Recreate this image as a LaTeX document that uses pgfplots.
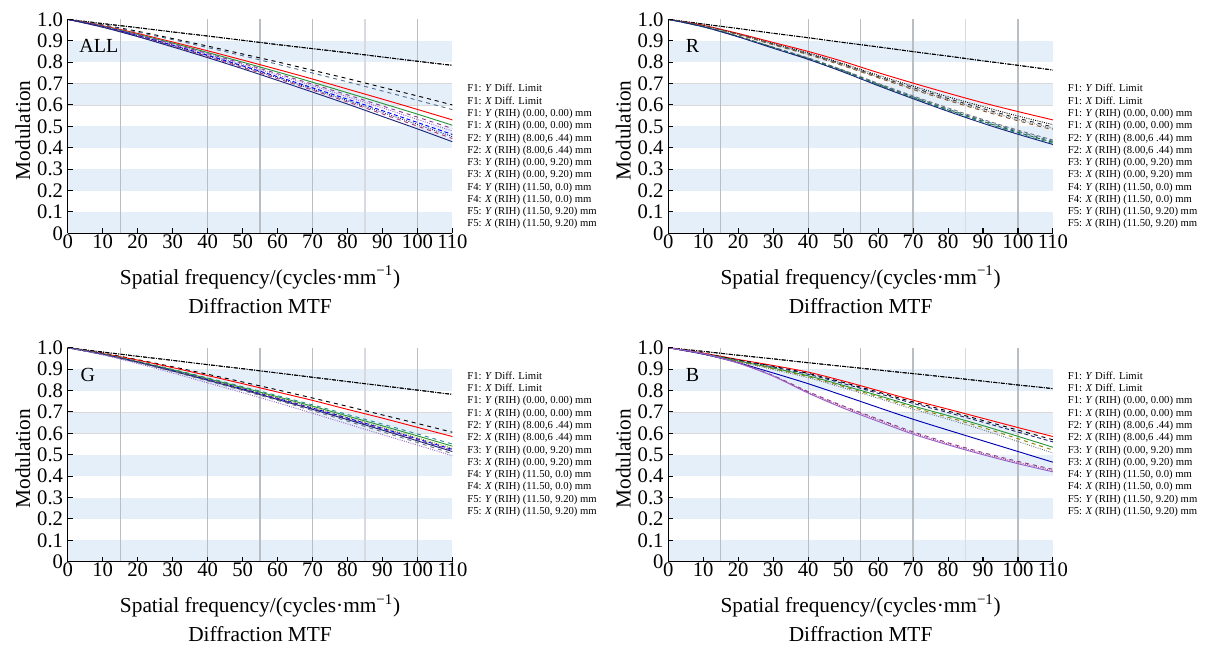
\documentclass[border=0pt]{standalone}
\usepackage{fontspec}
\setmainfont{Liberation Serif}
\usepackage{pgfplots}
\usepackage{pgfplotstable}
\pgfplotsset{compat=1.18}
\definecolor{bandblue}{RGB}{229,239,249}
\definecolor{steel}{RGB}{80,110,150}
\definecolor{mtfgreen}{RGB}{40,150,60}
\definecolor{mtfpurple}{RGB}{140,60,150}
\definecolor{mtfnavy}{RGB}{30,40,120}
\definecolor{mtfteal}{RGB}{40,140,150}
\definecolor{mtfviolet}{RGB}{150,100,200}
\definecolor{mtfgray}{RGB}{110,120,130}
\definecolor{vline}{RGB}{185,190,195}
\definecolor{vlinel}{RGB}{215,218,222}

\pgfplotstableread{
x d f1y f1x f2y f2x f3y f3x f4y f4x f5y f5x
0 1 1 1 1 1 1 1 1 1 1 1
10 .980 .974 .973 .970 .968 .967 .967 .966 .965 .964 .963
20 .961 .944 .940 .934 .930 .928 .926 .924 .923 .921 .919
30 .941 .910 .905 .894 .889 .885 .883 .879 .877 .875 .871
40 .922 .875 .868 .853 .845 .840 .837 .832 .829 .826 .821
50 .902 .838 .830 .810 .800 .794 .789 .783 .779 .775 .769
60 .882 .801 .790 .766 .754 .746 .740 .732 .727 .723 .715
70 .863 .762 .749 .721 .706 .697 .690 .680 .674 .669 .660
80 .844 .723 .708 .674 .657 .647 .638 .627 .620 .614 .604
90 .824 .682 .665 .627 .607 .595 .586 .573 .565 .558 .546
100 .804 .642 .622 .579 .557 .543 .532 .518 .509 .501 .488
110 .785 .600 .578 .530 .505 .490 .478 .462 .452 .443 .428
}\tabALL
\pgfplotstableread{
x d f1y f1x f2y f2x f3y f3x f4y f4x f5y f5x
0 1 1 1 1 1 1 1 1 1 1 1
10 .978 .972 .970 .970 .969 .969 .966 .966 .966 .965 .965
20 .957 .934 .931 .930 .929 .928 .921 .920 .920 .919 .918
30 .935 .892 .887 .884 .883 .881 .870 .869 .868 .867 .865
40 .914 .850 .843 .839 .837 .835 .820 .818 .816 .814 .813
50 .892 .803 .793 .789 .786 .783 .763 .761 .759 .756 .754
60 .871 .751 .739 .733 .730 .727 .701 .698 .695 .693 .690
70 .849 .702 .688 .681 .676 .672 .642 .638 .635 .632 .629
80 .828 .655 .638 .630 .625 .621 .586 .581 .577 .574 .570
90 .806 .610 .592 .583 .577 .572 .532 .527 .523 .519 .514
100 .785 .569 .548 .538 .532 .526 .482 .477 .472 .468 .463
110 .763 .530 .508 .497 .490 .484 .436 .430 .425 .420 .415
}\tabR
\pgfplotstableread{
x d f1y f1x f2y f2x f3y f3x f4y f4x f5y f5x
0 1 1 1 1 1 1 1 1 1 1 1
10 .980 .975 .973 .971 .971 .970 .970 .969 .969 .968 .967
20 .960 .944 .942 .937 .935 .934 .933 .932 .932 .930 .926
30 .941 .911 .907 .899 .897 .894 .893 .892 .891 .889 .882
40 .921 .876 .870 .859 .856 .853 .851 .850 .848 .845 .836
50 .902 .840 .832 .818 .814 .810 .808 .806 .804 .800 .790
60 .882 .803 .793 .776 .771 .766 .763 .761 .758 .754 .743
70 .862 .765 .754 .733 .727 .721 .718 .715 .712 .706 .694
80 .842 .726 .712 .688 .681 .674 .671 .667 .664 .657 .644
90 .822 .686 .671 .643 .635 .627 .623 .619 .615 .607 .594
100 .802 .646 .628 .597 .588 .579 .574 .570 .565 .557 .545
110 .782 .605 .585 .550 .540 .530 .525 .520 .515 .505 .495
}\tabG
\pgfplotstableread{
x d f1y f1x f2y f2x f3y f3x f4y f4x f5y f5x
0 1 1 1 1 1 1 1 1 1 1 1
10 .983 .975 .974 .973 .972 .971 .970 .970 .972 .972 .972
20 .965 .945 .943 .941 .938 .936 .934 .930 .930 .929 .928
30 .948 .917 .913 .910 .905 .902 .898 .882 .870 .869 .867
40 .930 .886 .880 .876 .869 .865 .860 .832 .795 .792 .788
50 .913 .845 .838 .833 .824 .819 .813 .777 .728 .724 .718
60 .896 .800 .793 .787 .777 .771 .764 .721 .667 .663 .656
70 .879 .755 .747 .740 .728 .721 .713 .666 .607 .602 .596
80 .862 .713 .704 .697 .683 .675 .666 .615 .556 .551 .546
90 .844 .670 .660 .652 .636 .627 .616 .565 .510 .505 .500
100 .826 .627 .615 .606 .586 .575 .562 .515 .469 .464 .458
110 .809 .585 .570 .560 .535 .522 .508 .465 .432 .426 .420
}\tabB

\pgfplotsset{
  mtf/.style={
    scale only axis, width=288.5pt, height=160.5pt, anchor=south west,
    xmin=0, xmax=110, ymin=0, ymax=1,
    axis x line*=bottom, axis y line*=left,
    axis line style={-, line width=1.1pt, black},
    axis on top,
    xtick={0,10,20,30,40,50,60,70,80,90,100,110},
    ytick={0,0.1,0.2,0.3,0.4,0.5,0.6,0.7,0.8,0.9,1},
    yticklabels={0,0.1,0.2,0.3,0.4,0.5,0.6,0.7,0.8,0.9,1.0},
    tick align=inside, major tick length=3.8pt,
    tick style={line width=0.8pt, black},
    /pgf/number format/assume math mode=true,
    ticklabel style={font=\fontsize{15.5}{16}\selectfont},
    xticklabel style={yshift=2.5pt},
    xlabel={Spatial frequency/(cycles·mm\textsuperscript{−1})},
    ylabel={Modulation},
    every axis x label/.style={at={([yshift=-33pt]axis description cs:0.5,0)}, anchor=center, font=\fontsize{16}{18}\selectfont},
    every axis y label/.style={at={([xshift=-33.75pt,yshift=-3pt]axis description cs:0,0.5)}, anchor=center, rotate=90, font=\fontsize{16}{18}\selectfont},
    every axis plot/.append style={line width=0.7pt, smooth},
  },
  dl/.style={black, densely dashdotted, line width=0.7pt},
}

\newcommand{\bands}{%
  \fill[bandblue] (axis cs:0,0) rectangle (axis cs:110,0.1);
  \fill[bandblue] (axis cs:0,0.2) rectangle (axis cs:110,0.3);
  \fill[bandblue] (axis cs:0,0.4) rectangle (axis cs:110,0.5);
  \fill[bandblue] (axis cs:0,0.6) rectangle (axis cs:110,0.7);
  \fill[bandblue] (axis cs:0,0.8) rectangle (axis cs:110,0.9);
  \draw[gray!30, line width=0.5pt] (axis cs:0,0.6) -- (axis cs:110,0.6);
  \draw[gray!30, line width=0.5pt] (axis cs:0,0.7) -- (axis cs:110,0.7);
  \draw[vline, line width=0.9pt] (axis cs:15,0) -- (axis cs:15,1);
  \draw[vline, line width=0.9pt] (axis cs:40,0) -- (axis cs:40,1);
  \draw[vline, line width=0.9pt] (axis cs:55,0) -- (axis cs:55,1);
  \draw[vline, line width=0.9pt] (axis cs:70,0) -- (axis cs:70,1);
  \draw[vlinel, line width=0.9pt] (axis cs:85,0) -- (axis cs:85,1);
  \draw[vline, line width=0.9pt] (axis cs:100,0) -- (axis cs:100,1);
}

\newcommand{\legtext}{F1: \textit{Y} Diff. Limit\\
F1: \textit{X} Diff. Limit\\
F1: \textit{Y} (RIH) (0.00, 0.00) mm\\
F1: \textit{X} (RIH) (0.00, 0.00) mm\\
F2: \textit{Y} (RIH) (8.00,6 .44) mm\\
F2: \textit{X} (RIH) (8.00,6 .44) mm\\
F3: \textit{Y} (RIH) (0.00, 9.20) mm\\
F3: \textit{X} (RIH) (0.00, 9.20) mm\\
F4: \textit{Y} (RIH) (11.50, 0.0) mm\\
F4: \textit{X} (RIH) (11.50, 0.0) mm\\
F5: \textit{Y} (RIH) (11.50, 9.20) mm\\
F5: \textit{X} (RIH) (11.50, 9.20) mm}

\begin{document}
\begin{tikzpicture}
\useasboundingbox (0,0) rectangle (903.75pt,484.5pt);

% ---------------- ALL ----------------
\begin{axis}[mtf, name=pA, at={(50.8pt,309.5pt)}]
\bands
\addplot[dl] table[x=x,y=d] {\tabALL};
\addplot[dl] table[x=x,y=d] {\tabALL};
\addplot[black, dashed] table[x=x,y=f1y] {\tabALL};
\addplot[steel, dashed] table[x=x,y=f1x] {\tabALL};
\addplot[red] table[x=x,y=f2y] {\tabALL};
\addplot[mtfgreen] table[x=x,y=f2x] {\tabALL};
\addplot[mtfpurple, dashed] table[x=x,y=f3y] {\tabALL};
\addplot[mtfviolet, densely dotted] table[x=x,y=f3x] {\tabALL};
\addplot[blue, densely dashed] table[x=x,y=f4y] {\tabALL};
\addplot[mtfnavy, densely dotted] table[x=x,y=f4x] {\tabALL};
\addplot[magenta!70!black, dashed] table[x=x,y=f5y] {\tabALL};
\addplot[mtfnavy] table[x=x,y=f5x] {\tabALL};
\end{axis}

% ---------------- R ----------------
\begin{axis}[mtf, name=pR, at={(501.2pt,309.5pt)}]
\bands
\addplot[dl] table[x=x,y=d] {\tabR};
\addplot[dl] table[x=x,y=d] {\tabR};
\addplot[red] table[x=x,y=f1y] {\tabR};
\addplot[black, densely dotted] table[x=x,y=f1x] {\tabR};
\addplot[black!80, dashed] table[x=x,y=f2y] {\tabR};
\addplot[mtfgray, densely dotted] table[x=x,y=f2x] {\tabR};
\addplot[brown!70!black, dashed] table[x=x,y=f3y] {\tabR};
\addplot[mtfgray, densely dashed] table[x=x,y=f3x] {\tabR};
\addplot[steel, dashed] table[x=x,y=f4y] {\tabR};
\addplot[mtfgreen!70!black, densely dashed] table[x=x,y=f4x] {\tabR};
\addplot[mtfteal, dashed] table[x=x,y=f5y] {\tabR};
\addplot[mtfnavy] table[x=x,y=f5x] {\tabR};
\end{axis}

% ---------------- G ----------------
\begin{axis}[mtf, name=pG, at={(50.8pt,63.2pt)}]
\bands
\addplot[dl] table[x=x,y=d] {\tabG};
\addplot[dl] table[x=x,y=d] {\tabG};
\addplot[black, dashed] table[x=x,y=f1y] {\tabG};
\addplot[red] table[x=x,y=f1x] {\tabG};
\addplot[mtfteal, dashed] table[x=x,y=f2y] {\tabG};
\addplot[mtfgreen] table[x=x,y=f2x] {\tabG};
\addplot[olive, densely dotted] table[x=x,y=f3y] {\tabG};
\addplot[blue, densely dashed] table[x=x,y=f3x] {\tabG};
\addplot[mtfpurple, dashed] table[x=x,y=f4y] {\tabG};
\addplot[mtfnavy] table[x=x,y=f4x] {\tabG};
\addplot[mtfgray, dashed] table[x=x,y=f5y] {\tabG};
\addplot[mtfviolet, densely dotted] table[x=x,y=f5x] {\tabG};
\end{axis}

% ---------------- B ----------------
\begin{axis}[mtf, name=pB, at={(501.2pt,63.2pt)}]
\bands
\addplot[dl] table[x=x,y=d] {\tabB};
\addplot[dl] table[x=x,y=d] {\tabB};
\addplot[red] table[x=x,y=f1y] {\tabB};
\addplot[black, dashed] table[x=x,y=f1x] {\tabB};
\addplot[mtfnavy, densely dashed] table[x=x,y=f2y] {\tabB};
\addplot[mtfgreen] table[x=x,y=f2x] {\tabB};
\addplot[olive, dashed] table[x=x,y=f3y] {\tabB};
\addplot[mtfgray, densely dotted] table[x=x,y=f3x] {\tabB};
\addplot[blue!70!black] table[x=x,y=f4y] {\tabB};
\addplot[mtfpurple, dashed] table[x=x,y=f4x] {\tabB};
\addplot[magenta!70!black, densely dotted] table[x=x,y=f5y] {\tabB};
\addplot[mtfviolet] table[x=x,y=f5x] {\tabB};
\end{axis}

% panel letters
\node[anchor=west, inner sep=0pt, font=\fontsize{15}{16}\selectfont] at ([xshift=8.6pt,yshift=-20.3pt]pA.north west) {ALL};
\node[anchor=west, inner sep=0pt, font=\fontsize{15}{16}\selectfont] at ([xshift=13pt,yshift=-20pt]pR.north west) {R};
\node[anchor=west, inner sep=0pt, font=\fontsize{15}{16}\selectfont] at ([xshift=9.4pt,yshift=-20.5pt]pG.north west) {G};
\node[anchor=west, inner sep=0pt, font=\fontsize{15}{16}\selectfont] at ([xshift=13pt,yshift=-20.5pt]pB.north west) {B};

% titles
\foreach \p in {pA,pR,pG,pB}{
  \node[anchor=center, font=\fontsize{16}{18}\selectfont] at ([yshift=-54.4pt]\p.south) {Diffraction MTF};
}

% legends
\node[anchor=west, align=left, inner sep=0pt, font=\fontsize{8}{9.2}\selectfont] at ([xshift=11pt,yshift=57.4pt]pA.south east) {\legtext};
\node[anchor=west, align=left, inner sep=0pt, font=\fontsize{8}{9.2}\selectfont] at ([xshift=11pt,yshift=57.4pt]pR.south east) {\legtext};
\node[anchor=west, align=left, inner sep=0pt, font=\fontsize{8}{9.2}\selectfont] at ([xshift=11pt,yshift=88.1pt]pG.south east) {\legtext};
\node[anchor=west, align=left, inner sep=0pt, font=\fontsize{8}{9.2}\selectfont] at ([xshift=11pt,yshift=88.1pt]pB.south east) {\legtext};
\end{tikzpicture}
\end{document}
